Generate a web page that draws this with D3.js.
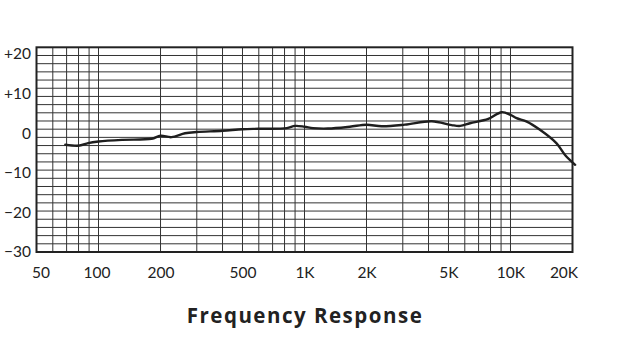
<!DOCTYPE html>
<html>
<head>
<meta charset="utf-8">
<script src="https://cdn.jsdelivr.net/npm/d3@7"></script>
<style>
  body { margin: 0; background: #fff; }
  text { font-family: Lato, "Open Sans", sans-serif; fill: #222; }
</style>
</head>
<body>
<div id="chart"></div>
<script>
// Frequency response chart

// Curve (Hz, dB)
const freqs = [69, 81, 89, 100, 130, 181, 200, 226, 263, 300, 400, 500, 600, 820, 900, 1000, 1100, 1300, 1660, 2000, 2370, 3070, 4150, 5180, 5700, 6360, 7800, 9060, 10000, 10700, 12000, 13900, 16700, 18400, 20600];
const levels = [-3.8, -4.0, -3.4, -3.0, -2.6, -2.35, -1.6, -1.95, -1.0, -0.7, -0.4, 0.0, 0.1, 0.25, 0.8, 0.6, 0.25, 0.15, 0.6, 1.1, 0.7, 1.1, 1.95, 1.0, 0.8, 1.45, 2.5, 4.15, 3.5, 2.7, 1.85, -0.15, -3.4, -6.3, -8.7];

// Axis ticks and grid
const tickFreqs = [50, 100, 200, 500, 1000, 2000, 5000, 10000, 20000];
const tickLabels = ["50", "100", "200", "500", "1K", "2K", "5K", "10K", "20K"];
const gridFreqs = [60, 70, 80, 90, 100, 200, 300, 400, 500, 600, 700, 800, 900, 1000, 2000, 3000, 4000, 5000, 6000, 7000, 8000, 9000, 10000];
const dbTicks = [20, 10, 0, -10, -20, -30];
const dbLabels = ["+20", "+10", "0", "\u221210", "\u221220", "\u221230"];
const gridDb = [18, 16, 14, 12, 10, 8, 6, 4, 2, 0, -2, -4, -6, -8, -10, -12, -14, -16, -18, -20, -22, -24, -26, -28];

const W = 635, H = 352;
const plotLeft = 36.5, plotRight = 572.5, plotTop = 47.3, plotBottom = 252;

const svg = d3.select("#chart").append("svg")
    .attr("width", W)
    .attr("height", H);

const x = d3.scaleLog().domain([50, 20000]).range([plotLeft, plotRight]);
const y = d3.scaleLinear().domain([20, -30]).range([plotTop, plotBottom]);
// the printed dB labels sit on a slightly tighter spacing than the grid
const yLabel = d3.scaleLinear().domain([20, -30]).range([54, 252]);

// vertical grid
svg.append("g").selectAll("line")
  .data(gridFreqs)
  .enter().append("line")
    .attr("x1", d => x(d)).attr("x2", d => x(d))
    .attr("y1", plotTop).attr("y2", plotBottom)
    .attr("stroke", "#333")
    .attr("stroke-width", 1);

// horizontal grid
svg.append("g").selectAll("line")
  .data(gridDb)
  .enter().append("line")
    .attr("x1", plotLeft).attr("x2", plotRight)
    .attr("y1", d => y(d)).attr("y2", d => y(d))
    .attr("stroke", "#333")
    .attr("stroke-width", 1);

// frame
svg.append("rect")
    .attr("x", plotLeft).attr("y", plotTop)
    .attr("width", plotRight - plotLeft).attr("height", plotBottom - plotTop)
    .attr("fill", "none")
    .attr("stroke", "#222")
    .attr("stroke-width", 2);

// response curve
const line = d3.line()
    .x((d, i) => x(freqs[i]))
    .y(d => y(d))
    .curve(d3.curveCatmullRom.alpha(0.5));

svg.append("path")
    .datum(levels)
    .attr("d", line)
    .attr("fill", "none")
    .attr("stroke", "#1e1e1e")
    .attr("stroke-width", 2.4)
    .attr("stroke-linejoin", "round")
    .attr("stroke-linecap", "round");

// x labels
const xAxis = svg.append("g")
    .attr("transform", `translate(0,${plotBottom + 21})`)
    .call(d3.axisBottom(x).tickValues(tickFreqs).tickSize(0).tickPadding(0)
      .tickFormat((d, i) => tickLabels[i]));
xAxis.select(".domain").remove();
xAxis.selectAll("text")
    .attr("y", 0)
    .attr("dy", "0.35em")
    .attr("dx", d => d === 50 ? 4 : d === 20000 ? -9 : d === 100 ? -2 : 0)
    .style("font-size", "15.5px")
    .style("font-family", "Lato, sans-serif")
    .style("fill", "#222");

// y labels
const yAxis = svg.append("g")
    .attr("transform", "translate(31,0)")
    .call(d3.axisLeft(yLabel).tickValues(dbTicks).tickSize(0).tickPadding(0)
      .tickFormat((d, i) => dbLabels[i]));
yAxis.select(".domain").remove();
yAxis.selectAll("text")
    .style("font-size", "15.5px")
    .style("font-family", "Lato, sans-serif")
    .style("fill", "#222");

// title
svg.append("text")
    .attr("x", 305)
    .attr("y", 323)
    .attr("text-anchor", "middle")
    .style("font-family", "'Open Sans', sans-serif")
    .style("font-size", "20.5px")
    .style("font-weight", "bold")
    .style("letter-spacing", "1.5px")
    .text("Frequency Response");
</script>
</body>
</html>
